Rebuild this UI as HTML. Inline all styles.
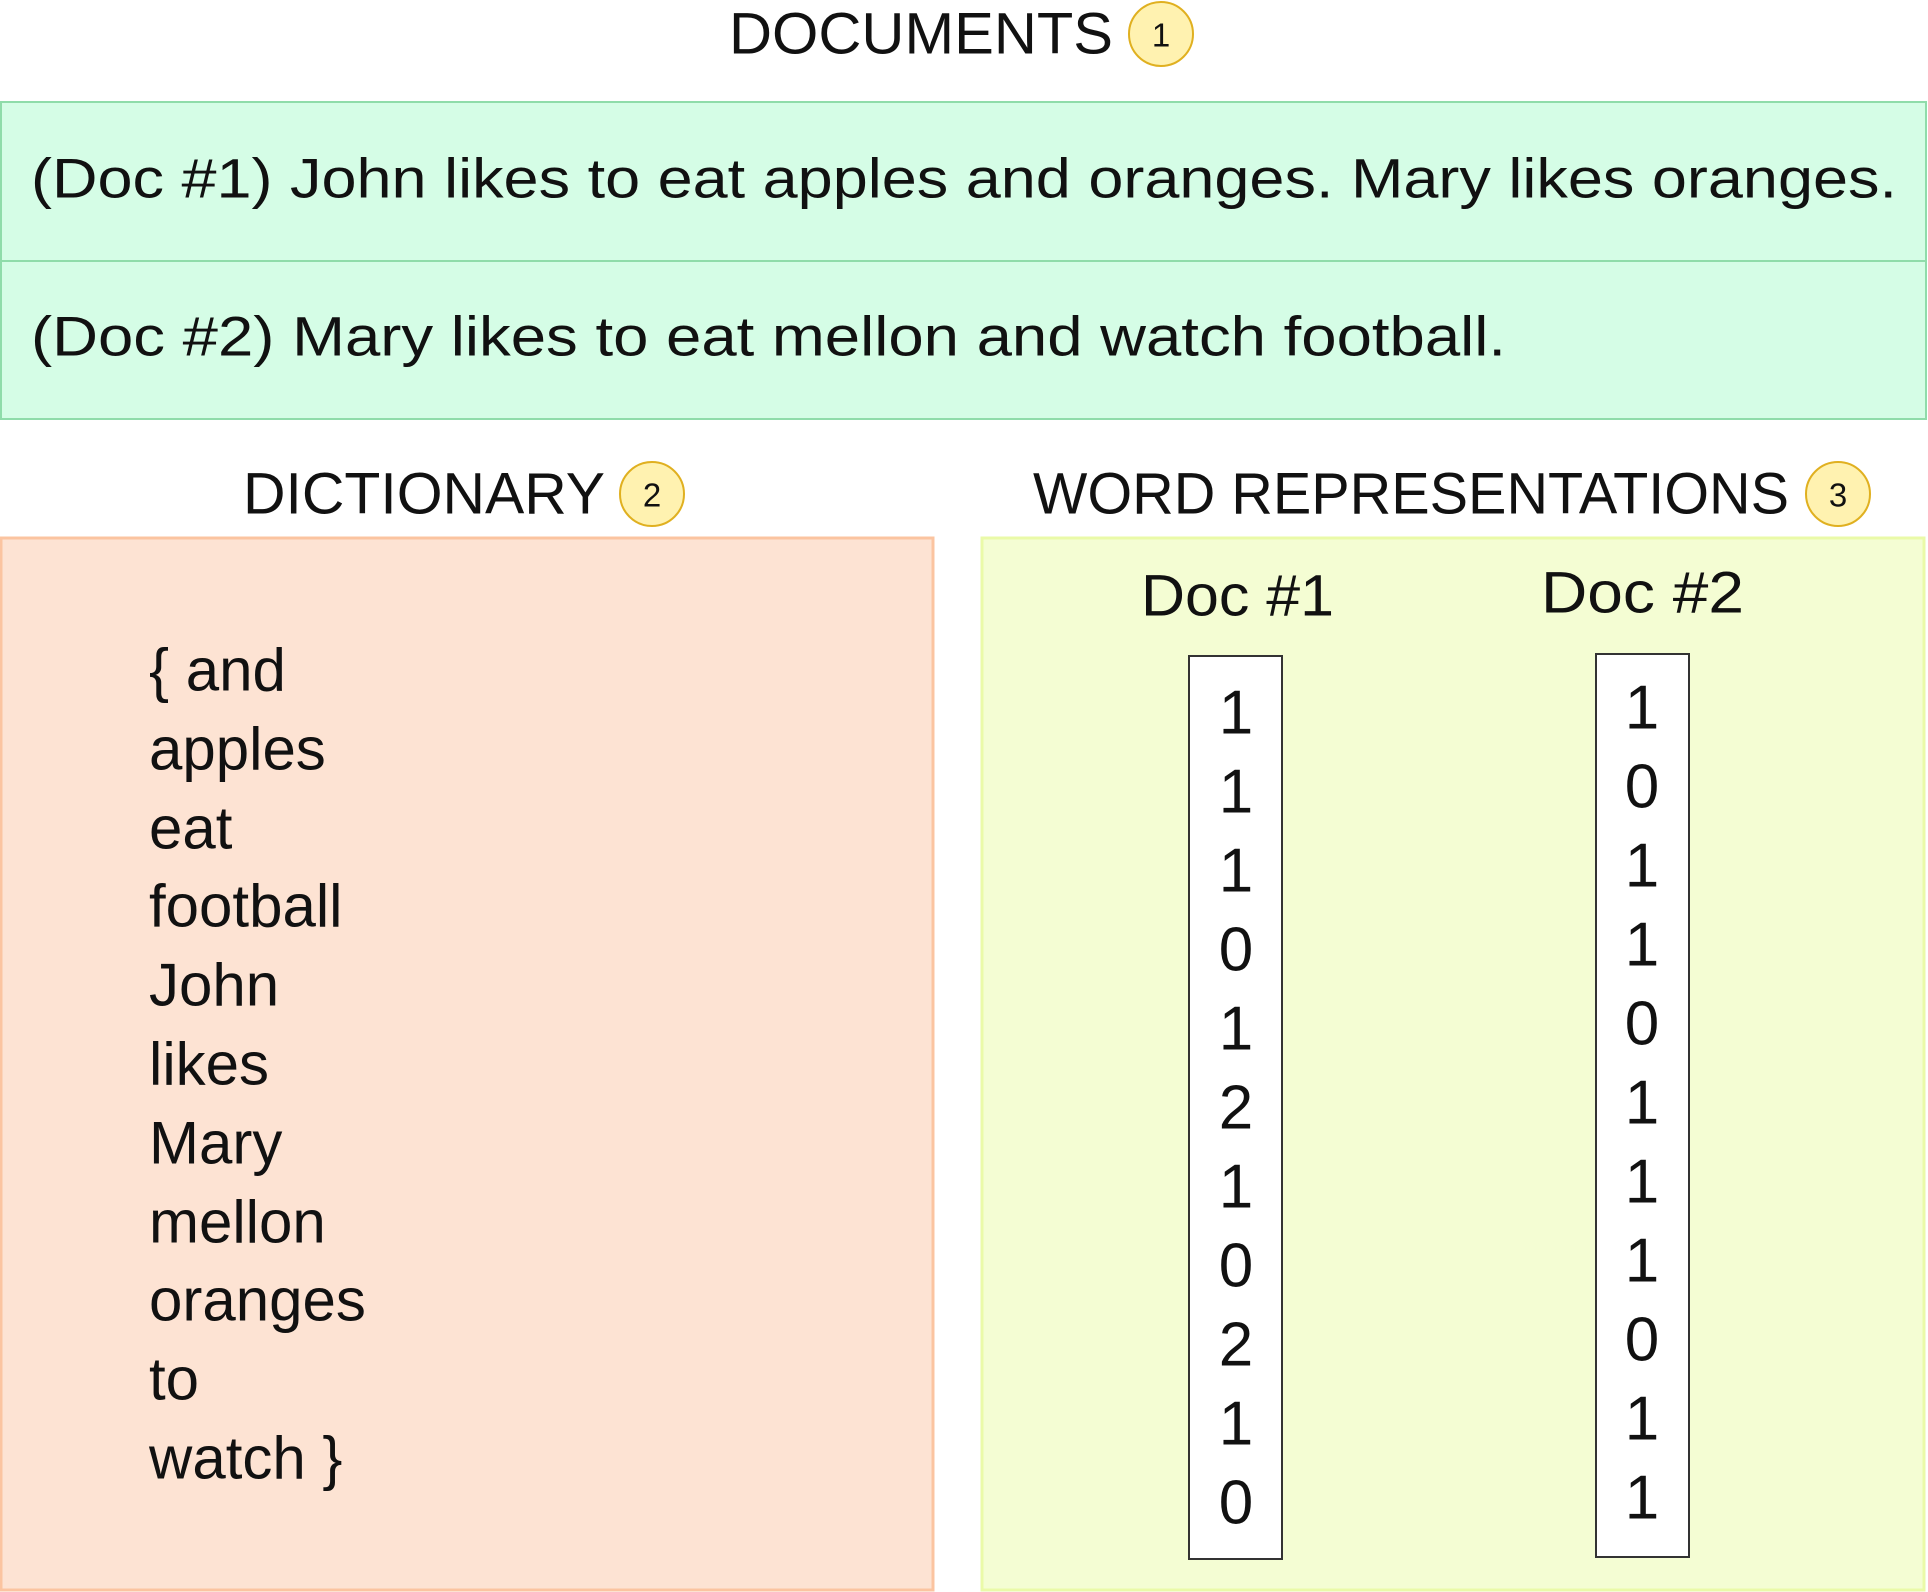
<!DOCTYPE html>
<html><head><meta charset="utf-8"><style>
html,body{margin:0;padding:0;background:#fff;}
svg{display:block;}
text{font-family:"Liberation Sans",sans-serif;fill:#111;}
</style></head><body>
<svg width="1928" height="1592" viewBox="0 0 1928 1592" xmlns="http://www.w3.org/2000/svg">
<text x="729" y="34" font-size="58" dominant-baseline="central" textLength="384" lengthAdjust="spacingAndGlyphs">DOCUMENTS</text>
<circle cx="1161" cy="34" r="32" fill="#fff2b0" stroke="#e0b020" stroke-width="2"/>
<text x="1161" y="35" font-size="33" text-anchor="middle" dominant-baseline="central">1</text>
<rect x="1" y="102" width="1925" height="317" fill="#d5fde6" stroke="#8fdcaa" stroke-width="2"/>
<line x1="1" y1="261" x2="1926" y2="261" stroke="#8fdcaa" stroke-width="2"/>
<text x="31" y="178" font-size="56" dominant-baseline="central" textLength="1866" lengthAdjust="spacingAndGlyphs">(Doc #1) John likes to eat apples and oranges. Mary likes oranges.</text>
<text x="31" y="336" font-size="56" dominant-baseline="central" textLength="1475" lengthAdjust="spacingAndGlyphs">(Doc #2) Mary likes to eat mellon and watch football.</text>
<text x="243" y="494" font-size="58" dominant-baseline="central" textLength="362" lengthAdjust="spacingAndGlyphs">DICTIONARY</text>
<circle cx="652" cy="494" r="32" fill="#fff2b0" stroke="#e0b020" stroke-width="2"/>
<text x="652" y="495" font-size="33" text-anchor="middle" dominant-baseline="central">2</text>
<text x="1033" y="494" font-size="58" dominant-baseline="central" textLength="756" lengthAdjust="spacingAndGlyphs">WORD REPRESENTATIONS</text>
<circle cx="1838" cy="494" r="32" fill="#fff2b0" stroke="#e0b020" stroke-width="2"/>
<text x="1838" y="495" font-size="33" text-anchor="middle" dominant-baseline="central">3</text>
<rect x="1" y="538" width="932" height="1052" fill="#fde3d3" stroke="#fbc4a0" stroke-width="3"/>
<g font-size="60">
<text x="149" y="670" dominant-baseline="central">{ and</text>
<text x="149" y="749" dominant-baseline="central">apples</text>
<text x="149" y="828" dominant-baseline="central">eat</text>
<text x="149" y="906" dominant-baseline="central">football</text>
<text x="149" y="985" dominant-baseline="central">John</text>
<text x="149" y="1064" dominant-baseline="central">likes</text>
<text x="149" y="1143" dominant-baseline="central">Mary</text>
<text x="149" y="1222" dominant-baseline="central">mellon</text>
<text x="149" y="1300" dominant-baseline="central">oranges</text>
<text x="149" y="1379" dominant-baseline="central">to</text>
<text x="149" y="1458" dominant-baseline="central">watch }</text>
</g>
<rect x="982" y="538" width="942" height="1052" fill="#f4fdd3" stroke="#eafaa8" stroke-width="3"/>
<text x="1141" y="596" font-size="58" dominant-baseline="central" textLength="193" lengthAdjust="spacingAndGlyphs">Doc #1</text>
<text x="1541" y="593" font-size="58" dominant-baseline="central" textLength="203" lengthAdjust="spacingAndGlyphs">Doc #2</text>
<rect x="1189" y="656" width="93" height="903" fill="#fff" stroke="#333" stroke-width="2"/>
<rect x="1596" y="654" width="93" height="903" fill="#fff" stroke="#333" stroke-width="2"/>
<g font-size="62" text-anchor="middle">
<text x="1236" y="713" dominant-baseline="central">1</text>
<text x="1236" y="792" dominant-baseline="central">1</text>
<text x="1236" y="871" dominant-baseline="central">1</text>
<text x="1236" y="950" dominant-baseline="central">0</text>
<text x="1236" y="1029" dominant-baseline="central">1</text>
<text x="1236" y="1108" dominant-baseline="central">2</text>
<text x="1236" y="1187" dominant-baseline="central">1</text>
<text x="1236" y="1266" dominant-baseline="central">0</text>
<text x="1236" y="1345" dominant-baseline="central">2</text>
<text x="1236" y="1424" dominant-baseline="central">1</text>
<text x="1236" y="1503" dominant-baseline="central">0</text>
<text x="1642" y="708" dominant-baseline="central">1</text>
<text x="1642" y="787" dominant-baseline="central">0</text>
<text x="1642" y="866" dominant-baseline="central">1</text>
<text x="1642" y="945" dominant-baseline="central">1</text>
<text x="1642" y="1024" dominant-baseline="central">0</text>
<text x="1642" y="1103" dominant-baseline="central">1</text>
<text x="1642" y="1182" dominant-baseline="central">1</text>
<text x="1642" y="1261" dominant-baseline="central">1</text>
<text x="1642" y="1340" dominant-baseline="central">0</text>
<text x="1642" y="1419" dominant-baseline="central">1</text>
<text x="1642" y="1498" dominant-baseline="central">1</text>
</g>
</svg>
</body></html>
